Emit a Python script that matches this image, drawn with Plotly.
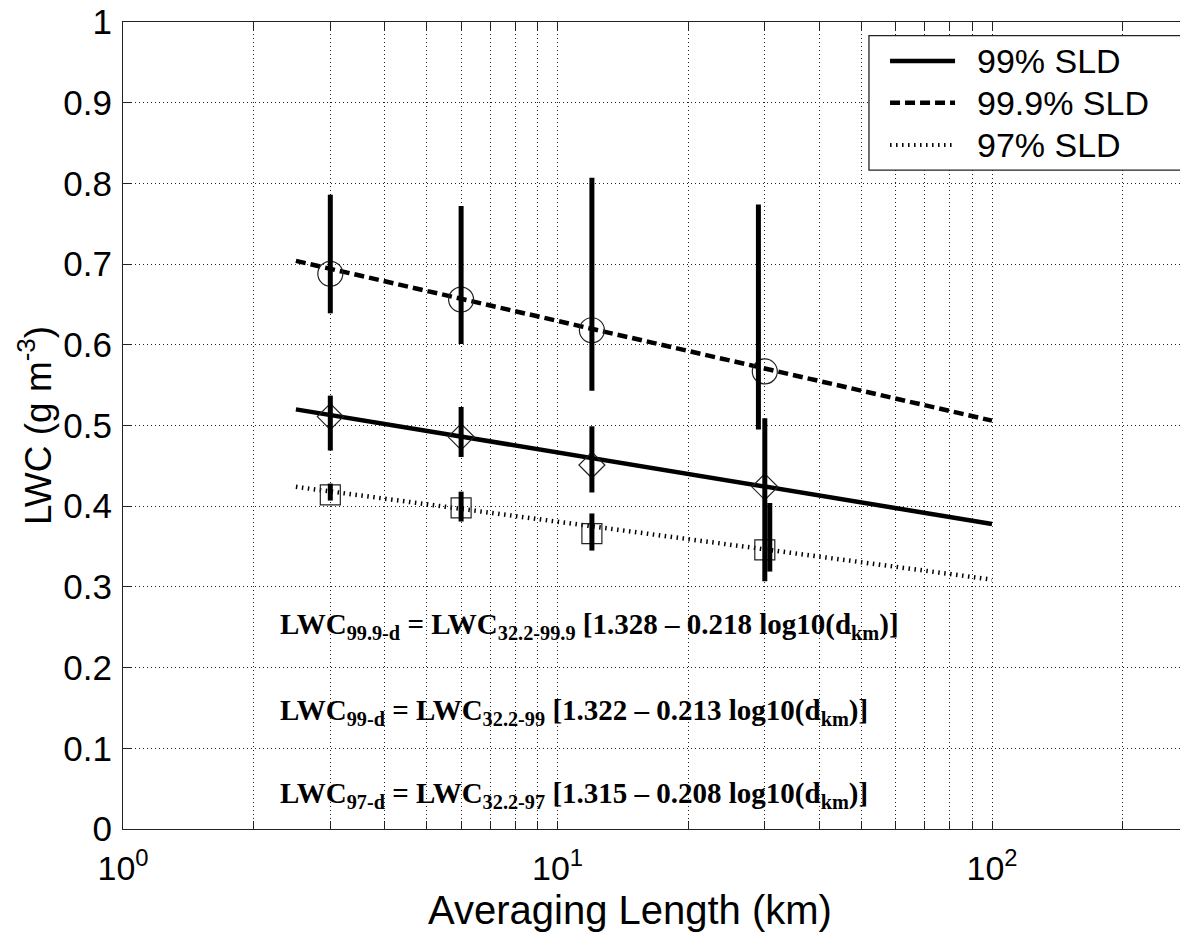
import plotly.graph_objects as go

# ---- data ----
dist_km = [3, 6, 12, 30]
lwc_999 = [0.688, 0.656, 0.618, 0.567]
lwc_99 = [0.511, 0.486, 0.451, 0.424]
lwc_97 = [0.414, 0.398, 0.366, 0.346]

# error bars (x position, low, high)
err_x_999 = [3, 6, 12, 29.0]
err_lo_999 = [0.639, 0.601, 0.543, 0.495]
err_hi_999 = [0.786, 0.772, 0.807, 0.774]
err_x_99 = [3, 6, 12, 30.0]
err_lo_99 = [0.469, 0.461, 0.417, 0.307]
err_hi_99 = [0.537, 0.523, 0.499, 0.509]
err_x_97 = [3, 6, 12, 30.8]
err_lo_97 = [0.407, 0.381, 0.345, 0.319]
err_hi_97 = [0.428, 0.418, 0.391, 0.404]

# fitted lines (end points)
fit_x = [2.5, 100]
fit_999 = [0.704, 0.506]
fit_99 = [0.520, 0.378]
fit_97 = [0.424, 0.309]

series_names = ["99% SLD", "99.9% SLD", "97% SLD"]
series_dash = ["solid", "10px,5px", "1.5px,4.5px"]

equations = [
    "LWC<sub>99.9-d</sub> = LWC<sub>32.2-99.9</sub> [1.328 \u2013 0.218 log10(d<sub>km</sub>)]",
    "LWC<sub>99-d</sub> = LWC<sub>32.2-99</sub> [1.322 \u2013 0.213 log10(d<sub>km</sub>)]",
    "LWC<sub>97-d</sub> = LWC<sub>32.2-97</sub> [1.315 \u2013 0.208 log10(d<sub>km</sub>)]",
]
eq_y = [0.252, 0.145, 0.042]

x_tickvals = [m * 10 ** e for e in range(0, 3) for m in range(1, 10) if m * 10 ** e <= 280]
x_ticktext = ["10<sup>%d</sup>" % e if m == 1 else "" for e in range(0, 3) for m in range(1, 10) if m * 10 ** e <= 280]
y_tickvals = [i / 10 for i in range(11)]
y_ticktext = ["0", "0.1", "0.2", "0.3", "0.4", "0.5", "0.6", "0.7", "0.8", "0.9", "1"]

SANS = "Liberation Sans, Arial, sans-serif"
SERIF = "Liberation Serif, Times New Roman, serif"

fig = go.Figure()

# fit lines
for yv, nm, ds in zip([fit_99, fit_999, fit_97], series_names, series_dash):
    fig.add_trace(go.Scatter(x=fit_x, y=yv, mode="lines", name=nm, showlegend=False,
                             line=dict(color="black", width=4.5, dash=ds)))

# markers
fig.add_trace(go.Scatter(x=dist_km, y=lwc_999, mode="markers", showlegend=False,
                         marker=dict(symbol="circle-open", size=25, color="#222",
                                     line=dict(width=1.2, color="#222"))))
fig.add_trace(go.Scatter(x=dist_km, y=lwc_99, mode="markers", showlegend=False,
                         marker=dict(symbol="diamond-open", size=20, color="#222",
                                     line=dict(width=1.2, color="#222"))))
fig.add_trace(go.Scatter(x=dist_km, y=lwc_97, mode="markers", showlegend=False,
                         marker=dict(symbol="square-open", size=20, color="#222",
                                     line=dict(width=1.2, color="#222"))))


def bars(xs, lo, hi):
    bx, by = [], []
    for x, a, b in zip(xs, lo, hi):
        bx += [x, x, None]
        by += [a, b, None]
    return bx, by


for xs, lo, hi in [(err_x_999, err_lo_999, err_hi_999),
                   (err_x_99, err_lo_99, err_hi_99),
                   (err_x_97, err_lo_97, err_hi_97)]:
    bx, by = bars(xs, lo, hi)
    fig.add_trace(go.Scatter(x=bx, y=by, mode="lines", showlegend=False,
                             line=dict(color="black", width=5)))

for txt, yy in zip(equations, eq_y):
    fig.add_annotation(x=0.1457, xref="paper", y=yy, yref="y", text="<b>" + txt + "</b>",
                       showarrow=False, xanchor="left", yanchor="middle",
                       font=dict(family=SERIF, size=29, color="black"))

# legend box (drawn in paper coordinates)
LEG_X0, LEG_X1, LEG_Y0, LEG_Y1 = 0.7011, 0.9981, 0.8165, 0.983
leg_rows = [0.9517, 0.9000, 0.8476]
fig.add_shape(type="rect", xref="paper", yref="paper", x0=LEG_X0, x1=LEG_X1, y0=LEG_Y0, y1=LEG_Y1,
              fillcolor="white", line=dict(color="#222", width=1.3), layer="above")
for ry, nm, ds in zip(leg_rows, series_names, series_dash):
    fig.add_shape(type="line", xref="paper", yref="paper", x0=0.7209, x1=0.7820, y0=ry, y1=ry,
                  line=dict(color="black", width=4.5 if ds != "1.5px,4.5px" else 4, dash=ds),
                  layer="above")
    fig.add_annotation(x=0.8008, xref="paper", y=ry, yref="paper", text=nm, showarrow=False,
                       xanchor="left", yanchor="middle",
                       font=dict(family=SANS, size=34, color="black"))

# x-axis title (placed slightly left of centre as in the reference)
fig.add_annotation(x=0.4765, xref="paper", y=-0.1, yref="paper", text="Averaging Length (km)",
                   showarrow=False, xanchor="center", yanchor="middle",
                   font=dict(family=SANS, size=40, color="black"))

axis_common = dict(showline=True, linecolor="#222", linewidth=1.3, mirror="ticks",
                   ticks="inside", tickcolor="#222", ticklen=8, tickwidth=1,
                   showgrid=True, gridcolor="#222", gridwidth=1, griddash="1px,3px",
                   zeroline=False, ticklabeloverflow="allow", automargin=False)

fig.update_xaxes(type="log", range=[0, 2.4488], tickmode="array",
                 tickvals=x_tickvals, ticktext=x_ticktext,
                 tickfont=dict(family=SANS, size=34, color="black"), ticklabelstandoff=9,
                 **axis_common)
fig.update_yaxes(range=[0, 1], tickmode="array", tickvals=y_tickvals, ticktext=y_ticktext,
                 tickfont=dict(family=SANS, size=35, color="black"), ticklabelstandoff=3,
                 title=dict(text="LWC (g m<sup>-3</sup>)", font=dict(family=SANS, size=37, color="black"),
                            standoff=0),
                 **axis_common)

fig.update_layout(
    width=1180, height=925,
    margin=dict(l=115, r=1, t=14, b=104, autoexpand=False),
    plot_bgcolor="white", paper_bgcolor="white",
    showlegend=False,
)

fig.write_html("out.html")
